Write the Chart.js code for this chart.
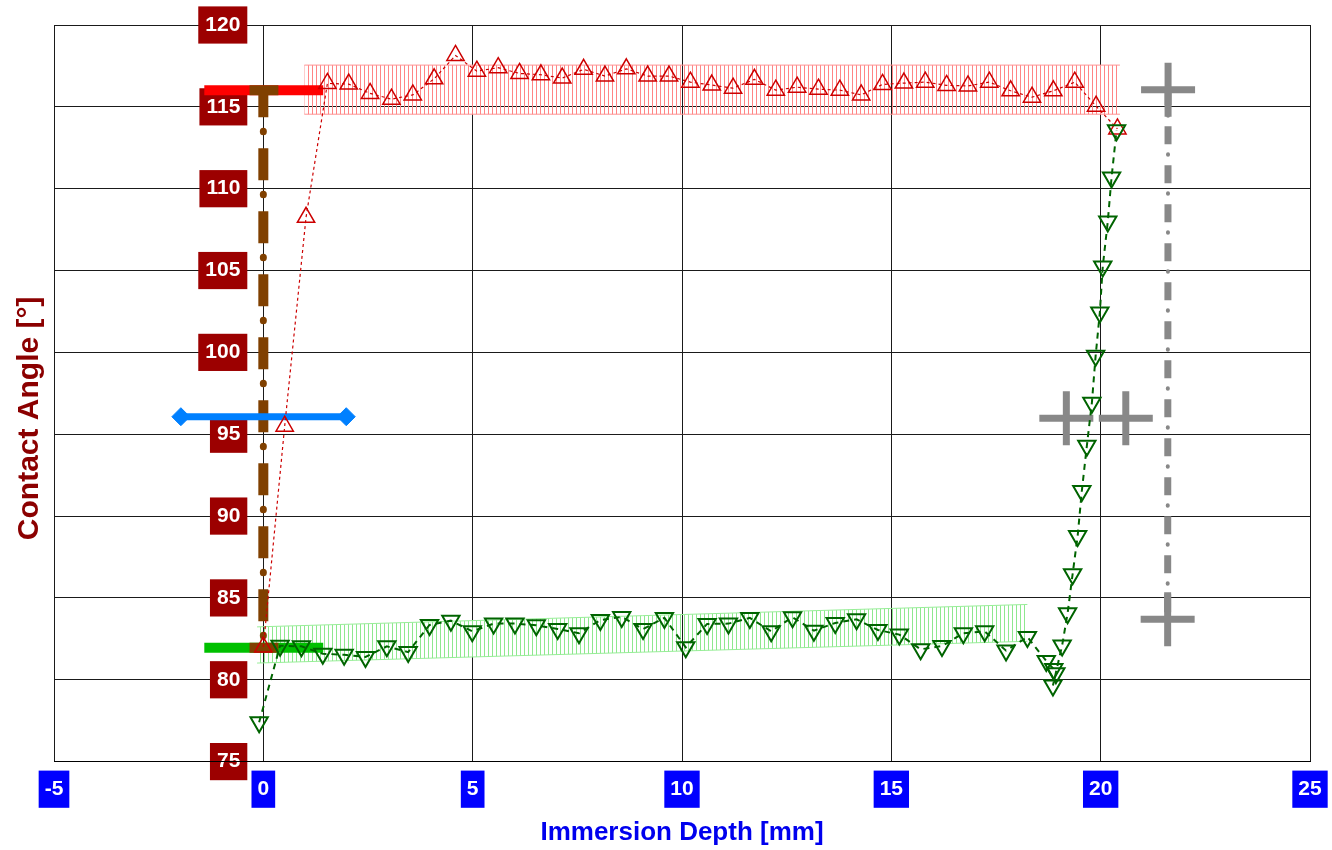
<!DOCTYPE html>
<html>
<head>
<meta charset="utf-8">
<script src="https://cdn.jsdelivr.net/npm/chart.js@4.4.1/dist/chart.umd.min.js"></script>
<style>
  html, body { margin: 0; padding: 0; background: #fff; }
  #wrap { width: 1332px; height: 850px; }
</style>
</head>
<body>
<div id="wrap"><canvas id="chart" width="1332" height="850"></canvas></div>
<script>
// advancing run (red up triangles)
const depthAdv = [0, 0.51, 1.02, 1.53, 2.04, 2.55, 3.06, 3.57, 4.08, 4.59, 5.10, 5.61, 6.12, 6.63,
  7.14, 7.65, 8.16, 8.67, 9.18, 9.69, 10.20, 10.71, 11.22, 11.73, 12.24, 12.75, 13.26, 13.77,
  14.28, 14.79, 15.30, 15.81, 16.32, 16.83, 17.34, 17.85, 18.36, 18.87, 19.38, 19.89, 20.40];
const angleAdv = [82.0, 95.49, 108.25, 116.43, 116.39, 115.82, 115.47, 115.73, 116.71, 118.14,
  117.18, 117.39, 117.04, 116.96, 116.76, 117.29, 116.88, 117.32, 116.88, 116.88, 116.51, 116.33,
  116.14, 116.68, 116.02, 116.20, 116.08, 116.02, 115.73, 116.37, 116.45, 116.51, 116.31, 116.28,
  116.51, 115.98, 115.59, 115.98, 116.51, 115.04, 113.65];

// receding run (green down triangles)
const depthRec = [-0.10, 0.40, 0.91, 1.42, 1.93, 2.44, 2.95, 3.46, 3.97, 4.48, 4.99, 5.50, 6.01,
  6.52, 7.03, 7.54, 8.05, 8.56, 9.07, 9.58, 10.09, 10.60, 11.11, 11.62, 12.13, 12.64, 13.15,
  13.66, 14.17, 14.68, 15.19, 15.70, 16.21, 16.72, 17.23, 17.74, 18.25,
  18.70, 18.88, 18.93, 18.86, 19.08, 19.21, 19.33, 19.45, 19.55, 19.67, 19.79, 19.88, 19.98,
  20.05, 20.17, 20.26, 20.38];
const angleRec = [77.4, 82.08, 82.04, 81.59, 81.53, 81.39, 82.04, 81.69, 83.35, 83.61, 82.96,
  83.43, 83.43, 83.33, 83.10, 82.84, 83.65, 83.84, 83.10, 83.78, 81.98, 83.41, 83.43, 83.78,
  82.96, 83.82, 83.00, 83.47, 83.69, 83.04, 82.76, 81.86, 82.06, 82.84, 82.96, 81.78, 82.61,
  81.15, 80.65, 80.40, 79.65, 82.10, 84.06, 86.45, 88.78, 91.53, 94.29, 96.92, 99.80, 102.43,
  105.24, 108.00, 110.69, 113.57];

// hatched bands (fit of each run)
const bandAdvX = [0.98, 20.46];
const bandAdvTop = [117.55, 117.55];
const bandAdvBottom = [114.55, 114.55];
const bandRecX = [-0.15, 18.25];
const bandRecTop = [83.23, 84.60];
const bandRecBottom = [81.02, 82.35];

// mean levels, error bar and hysteresis
const levelX = [-1.41, 1.43];
const advLevel = 116.02;
const recLevel = 81.96;
const capX = [-0.33, 0.36];
const meanX = [-1.97, 1.98];
const meanLevel = 96.07;

// grey reference crosses
const crossX = [21.61, 19.18, 20.60, 21.60];
const crossY = [116.05, 95.97, 95.97, 83.69];

const xTicks = [-5, 0, 5, 10, 15, 20, 25];
const yTicks = [75, 80, 85, 90, 95, 100, 105, 110, 115, 120];

const FONT = "'Liberation Sans', Arial, sans-serif";
const brown = '#804000';
const grey = '#888888';
const NB = '\u00A0';

function pts(xs, ys) { return xs.map((x, i) => ({ x: x, y: ys[i] })); }
function flat(xs, y) { return xs.map(x => ({ x: x, y: y })); }

function hatch(color) {
  const tile = document.createElement('canvas');
  tile.width = 4;
  tile.height = 4;
  const g = tile.getContext('2d');
  g.fillStyle = color;
  g.fillRect(0, 0, 1, 4);
  return g.createPattern(tile, 'repeat');
}

const lineOnly = { showLine: true, pointRadius: 0, tension: 0, fill: false };

const ctx = document.getElementById('chart').getContext('2d');
new Chart(ctx, {
  type: 'scatter',
  data: {
    datasets: [
      {
        label: 'Receding', data: pts(depthRec, angleRec), order: 1, showLine: true,
        borderColor: '#006400', borderWidth: 2, borderDash: [6, 5],
        pointStyle: 'triangle', rotation: 180, pointRadius: 10,
        pointBorderColor: '#006400', pointBackgroundColor: 'rgba(255,255,255,0)', pointBorderWidth: 2
      },
      {
        label: 'Advancing', data: pts(depthAdv, angleAdv), order: 2, showLine: true,
        borderColor: '#cc0000', borderWidth: 1.2, borderDash: [3, 3],
        pointStyle: 'triangle', pointRadius: 10,
        pointBorderColor: '#cc0000', pointBackgroundColor: 'rgba(255,255,255,0)', pointBorderWidth: 1.5
      },
      {
        label: 'Reference', data: pts(crossX, crossY), order: 3, showLine: false,
        pointStyle: 'cross', pointRadius: 27, pointBorderWidth: 7, pointBorderColor: grey
      },
      {
        label: 'Mean', data: flat(meanX, meanLevel), order: 4, showLine: true,
        borderColor: '#0080ff', borderWidth: 7, pointStyle: 'rectRot', pointRadius: 9,
        pointBackgroundColor: '#0080ff', pointBorderColor: '#0080ff', pointBorderWidth: 1
      },
      { ...lineOnly, label: 'Cap top', data: flat(capX, advLevel), order: 5, borderColor: brown, borderWidth: 10 },
      { ...lineOnly, label: 'Cap bottom', data: flat(capX, recLevel), order: 5, borderColor: brown, borderWidth: 10 },
      {
        ...lineOnly, label: 'Hysteresis', data: pts([0, 0], [advLevel, recLevel]), order: 6,
        borderColor: brown, borderWidth: 10, borderDash: [32, 31], borderDashOffset: 5
      },
      {
        ...lineOnly, label: 'Hysteresis dots', data: pts([0, 0], [advLevel, recLevel]), order: 6,
        borderColor: brown, borderWidth: 7, borderCapStyle: 'round', borderDash: [0.5, 62.5], borderDashOffset: 22
      },
      {
        ...lineOnly, label: 'Ref span', data: pts([crossX[0], crossX[3]], [crossY[0], crossY[3]]), order: 6,
        borderColor: grey, borderWidth: 7, borderDash: [18, 21], borderDashOffset: 2.5
      },
      {
        ...lineOnly, label: 'Ref span dots', data: pts([crossX[0], crossX[3]], [crossY[0], crossY[3]]), order: 6,
        borderColor: grey, borderWidth: 4, borderCapStyle: 'round', borderDash: [0.5, 38.5], borderDashOffset: 13.5
      },
      { ...lineOnly, label: 'Adv level', data: flat(levelX, advLevel), order: 7, borderColor: '#ff0000', borderWidth: 10 },
      { ...lineOnly, label: 'Rec level', data: flat(levelX, recLevel), order: 7, borderColor: '#00c000', borderWidth: 10 },
      {
        ...lineOnly, label: 'Adv band', data: pts(bandAdvX, bandAdvTop), order: 8,
        borderColor: '#ff9494', borderWidth: 1, fill: '+1', backgroundColor: hatch('#ff8585')
      },
      { ...lineOnly, label: 'Adv band low', data: pts(bandAdvX, bandAdvBottom), order: 8, borderColor: '#ff9494', borderWidth: 1 },
      {
        ...lineOnly, label: 'Rec band', data: pts(bandRecX, bandRecTop), order: 9,
        borderColor: '#98ee98', borderWidth: 1, fill: '+1', backgroundColor: hatch('#8ee88e')
      },
      { ...lineOnly, label: 'Rec band low', data: pts(bandRecX, bandRecBottom), order: 9, borderColor: '#98ee98', borderWidth: 1 }
    ]
  },
  options: {
    responsive: false,
    animation: false,
    layout: { autoPadding: false, padding: { top: 25, right: 22, left: 0, bottom: 0 } },
    plugins: { legend: { display: false }, tooltip: { enabled: false } },
    scales: {
      y: {
        type: 'linear', position: { x: -0.55 }, min: 75, max: 120,
        afterBuildTicks: axis => { axis.ticks = yTicks.map(v => ({ value: v })); },
        ticks: {
          color: '#ffffff', font: { family: FONT, size: 21, weight: 'bold' },
          showLabelBackdrop: true, backdropColor: '#9c0000', backdropPadding: { x: 7, y: 6 }
        },
        grid: { color: '#1a1a1a', lineWidth: 1, drawTicks: false },
        border: { display: false }
      },
      yt: {
        type: 'linear', position: 'left', min: 75, max: 120,
        ticks: { display: false },
        grid: { display: false, drawTicks: false },
        border: { display: false },
        title: {
          display: true, text: 'Contact Angle [°]' + NB.repeat(6), color: '#8b0000',
          font: { family: FONT, size: 30, weight: 'bold' }, padding: { top: 12, bottom: 6 }
        }
      },
      x: {
        type: 'linear', position: 'bottom', min: -5, max: 25,
        afterBuildTicks: axis => { axis.ticks = xTicks.map(v => ({ value: v })); },
        afterFit: axis => { axis.paddingRight = 0; },
        ticks: {
          color: '#ffffff', font: { family: FONT, size: 21, weight: 'bold' }, padding: 15,
          maxRotation: 0, showLabelBackdrop: true, backdropColor: '#0000ff', backdropPadding: { x: 6, y: 6 }
        },
        grid: { color: '#1a1a1a', lineWidth: 1, drawTicks: false },
        border: { color: '#000000', width: 1 },
        title: {
          display: true, text: 'Immersion Depth [mm]', color: '#0000ee',
          font: { family: FONT, size: 26, weight: 'bold' }, padding: { top: 0, bottom: 2 }
        }
      }
    }
  }
});
</script>
</body>
</html>
